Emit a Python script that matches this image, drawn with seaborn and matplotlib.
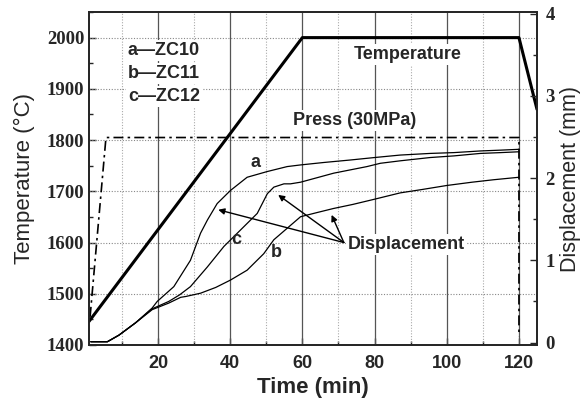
import numpy as np
import pandas as pd
import matplotlib
matplotlib.use("Agg")
import matplotlib.pyplot as plt
from matplotlib.ticker import MultipleLocator
import seaborn as sns

# Sintering program: heating ramp, hold at 2000 °C, cooling start
temp_time = [0.9, 60, 120, 125]
temp_value = [1446, 2000, 2000, 1860]

# Applied pressure trace (drawn on the temperature scale as a reference line)
press_time = [1.2, 5.6, 120, 120]
press_level = [1455, 1805, 1805, 1417]

# Ram displacement (mm) of the three compositions
disp_a_time = [1.4, 6.0, 9.2, 13.8, 18.4, 19.8, 24.4, 29.0, 31.8, 33.7, 36.4,
               40.1, 44.7, 50.3, 55.8, 59.5, 66.0, 73.3, 80.0, 87.1, 95.4, 102.0,
               109.3, 115.0, 120.0]
disp_a = [0.01, 0.01, 0.09, 0.24, 0.42, 0.50, 0.68, 1.00, 1.33, 1.49, 1.69,
          1.85, 2.01, 2.08, 2.14, 2.16, 2.19, 2.22, 2.25, 2.28, 2.30, 2.31,
          2.33, 2.34, 2.35]

disp_b_time = [1.4, 6.0, 9.2, 13.8, 18.4, 23.0, 26.3, 27.7, 31.8, 36.0, 40.1,
               44.7, 49.3, 52.1, 55.8, 59.5, 64.0, 68.6, 74.0, 79.7, 87.1, 93.0,
               100.0, 107.0, 113.0, 120.0]
disp_b = [0.01, 0.01, 0.09, 0.24, 0.40, 0.48, 0.55, 0.56, 0.60, 0.67, 0.76,
          0.88, 1.08, 1.25, 1.39, 1.53, 1.58, 1.63, 1.68, 1.74, 1.82, 1.86,
          1.91, 1.95, 1.98, 2.01]

disp_c_time = [1.4, 6.0, 9.2, 13.8, 18.4, 23.0, 26.0, 29.0, 33.7, 38.3, 42.9,
               47.5, 50.3, 52.1, 54.9, 56.7, 59.5, 68.7, 77.9, 81.6, 87.1, 95.4,
               102.0, 109.3, 115.0, 120.0]
disp_c = [0.01, 0.01, 0.09, 0.24, 0.41, 0.50, 0.58, 0.68, 0.92, 1.17, 1.37,
          1.57, 1.81, 1.89, 1.93, 1.93, 1.95, 2.06, 2.14, 2.18, 2.21, 2.25,
          2.27, 2.30, 2.31, 2.32]

sample_labels = ["a\u2014ZC10", "b\u2014ZC11", "c\u2014ZC12"]

disp_df = pd.concat([
    pd.DataFrame({"time": disp_a_time, "disp": disp_a, "curve": "a"}),
    pd.DataFrame({"time": disp_b_time, "disp": disp_b, "curve": "b"}),
    pd.DataFrame({"time": disp_c_time, "disp": disp_c, "curve": "c"}),
], ignore_index=True)
temp_df = pd.DataFrame({"time": temp_time, "temp": temp_value})
press_df = pd.DataFrame({"time": press_time, "level": press_level})

sns.set_style("ticks")
plt.rcParams["font.family"] = ["Liberation Sans", "DejaVu Sans"]

fig = plt.figure(figsize=(5.83, 4.03), dpi=100)
ax = fig.add_axes([89 / 583, 1 - 345 / 403, (537 - 89) / 583, (345 - 12) / 403])

# grid: solid at major time ticks, dotted at the minor ones and temperature levels
for t in [20, 40, 60, 80, 100, 120]:
    ax.axvline(t, color="#555555", lw=0.9, zorder=1)
for t in [10, 30, 50, 70, 90, 110]:
    ax.axvline(t, color="#aaaaaa", lw=0.8, ls=(0, (1, 1.5)), zorder=1)
for y in [1500, 1600, 1700, 1800, 1900, 2000]:
    ax.axhline(y, color="#888888", lw=0.8, ls=(0, (1, 1.5)), zorder=1)

sns.lineplot(data=temp_df, x="time", y="temp", ax=ax, color="black", lw=2.2,
             sort=False, estimator=None, zorder=3)
sns.lineplot(data=press_df, x="time", y="level", ax=ax, color="black", lw=1.2,
             sort=False, estimator=None, zorder=3, dashes=False)
ax.lines[-1].set_dashes((6, 2.5, 1.5, 2.5))

ax.set_xlim(0.9, 125)
ax.set_ylim(1400, 2050)
ax.xaxis.set_major_locator(MultipleLocator(20))
ax.xaxis.set_minor_locator(MultipleLocator(10))
ax.yaxis.set_major_locator(MultipleLocator(100))
ax.yaxis.set_minor_locator(MultipleLocator(50))
ax.set_yticks([1400, 1500, 1600, 1700, 1800, 1900, 2000])
ax.set_xticks([20, 40, 60, 80, 100, 120])
ax.tick_params(which="both", direction="in", top=False, right=False, width=1)
ax.tick_params(which="major", length=5)
ax.tick_params(axis="x", which="major", pad=7)
ax.tick_params(which="minor", length=3)
for lab in ax.get_yticklabels():
    lab.set_fontfamily("Liberation Serif")
    lab.set_fontweight("bold")
    lab.set_fontsize(13.5)
for lab in ax.get_xticklabels():
    lab.set_fontweight("bold")
    lab.set_fontsize(13)
ax.set_xlabel("Time (min)", fontsize=16, fontweight="bold", labelpad=4)
ax.set_ylabel("Temperature (\u00b0C)", fontsize=16, labelpad=8)
for s in ax.spines.values():
    s.set_linewidth(1.3)
    s.set_visible(True)

# displacement on the right-hand axis
ax2 = ax.twinx()
sns.lineplot(data=disp_df, x="time", y="disp", hue="curve", ax=ax2,
             palette=["black"] * 3, lw=0.9, sort=False, estimator=None,
             legend=False, zorder=3)
ax2.set_ylim(-0.03, 4.02)
ax2.set_yticks([0, 1, 2, 3, 4])
ax2.yaxis.set_minor_locator(MultipleLocator(0.5))
ax2.tick_params(which="both", direction="in", width=1)
ax2.tick_params(which="major", length=5, pad=6)
ax2.tick_params(which="minor", length=3)
for lab in ax2.get_yticklabels():
    lab.set_fontfamily("Liberation Serif")
    lab.set_fontweight("bold")
    lab.set_fontsize(13.5)
ax2.set_ylabel("Displacement (mm)", fontsize=15.5, labelpad=4)
for s in ax2.spines.values():
    s.set_linewidth(1.3)

box = dict(facecolor="white", edgecolor="none", pad=1.5)
txt = dict(fontsize=13, fontweight="bold", zorder=6, transform=ax.transData)

for lab, y in zip(sample_labels, [1975, 1930, 1885]):
    ax2.text(11.7, y, lab, ha="left", va="center", bbox=box, **txt)
ax2.text(89.3, 1967, "Temperature", ha="center", va="center", bbox=box, **txt)
ax2.text(74.6, 1838, "Press (30MPa)", ha="center", va="center", bbox=box, **txt)
ax2.text(72.6, 1596, "Displacement", ha="left", va="center", bbox=box, **txt)
ax2.text(46.9, 1756, "a", ha="center", va="center", **txt)
ax2.text(41.8, 1606, "c", ha="center", va="center", **txt)
ax2.text(52.9, 1580, "b", ha="center", va="center", **txt)

for hx, hy in [(36.7, 1664), (53.3, 1693), (68.1, 1654)]:
    ax2.annotate("", xy=(hx, hy), xytext=(71.5, 1600),
                 xycoords=ax.transData, textcoords=ax.transData,
                 arrowprops=dict(arrowstyle="-|>", color="black", lw=1.0,
                                 mutation_scale=9, shrinkA=0, shrinkB=0),
                 zorder=5)

fig.savefig("out.png", dpi=100)
